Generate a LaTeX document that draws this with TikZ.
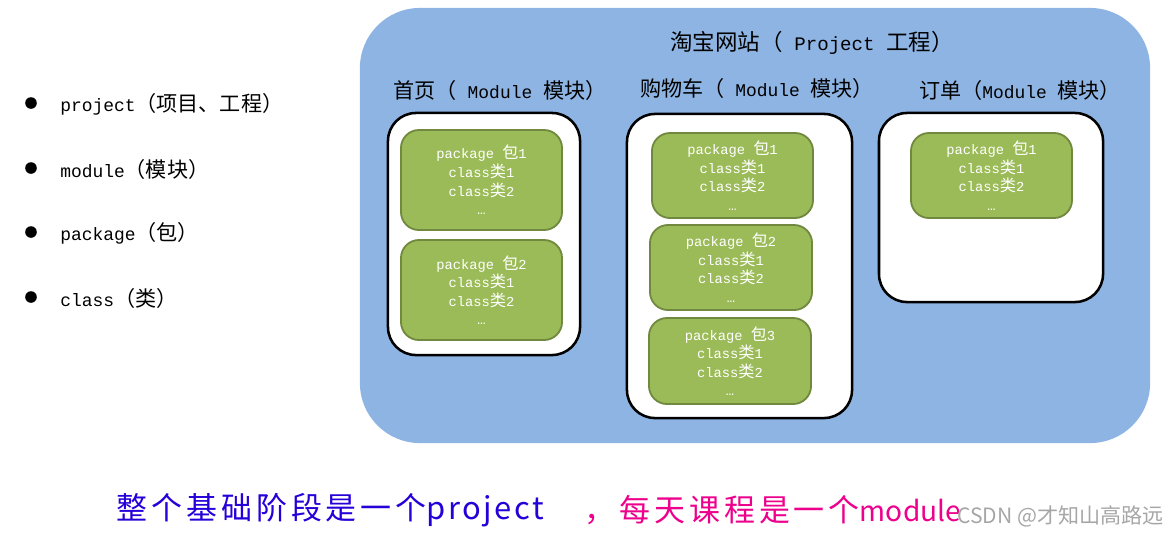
\documentclass[tikz,border=0pt]{standalone}
\usepackage{fontspec}
\usepackage{xcolor}
\setmainfont{Liberation Mono}[Scale=0.85]
\newfontfamily\cjk{Noto Sans CJK SC}
\newfontfamily\hand{Noto Sans CJK SC}[LetterSpace=13]
\newfontfamily\handlat{Noto Sans CJK SC}[LetterSpace=8]
\newfontfamily\handlatn{Noto Sans CJK SC}[LetterSpace=0]
\newcommand{\zh}[1]{{\cjk #1}}
\definecolor{projblue}{HTML}{8EB4E3}
\definecolor{pkggreen}{HTML}{9BBB59}
\definecolor{pkgedge}{HTML}{71893F}

\begin{document}
\begin{tikzpicture}[x=0.025cm, y=-0.025cm,
  modbox/.style={draw=black, fill=white, line width=1.8pt, rounded corners=0.7cm},
  pkgbox/.style={draw=pkgedge, fill=pkggreen, line width=1.3pt, rounded corners=0.45cm,
    text=white, align=center, font=\fontsize{11.5}{13.2}\selectfont},
  item/.style={anchor=west, font=\fontsize{15}{18}\selectfont},
  dot/.style={circle, fill=black, inner sep=0pt, minimum size=0.29cm},
  title/.style={font=\fontsize{15}{18}\selectfont},
  note/.style={anchor=west, font=\hand\fontsize{22}{26}\selectfont}]
\useasboundingbox (0,0) rectangle (1169,535);

% left list
\node[dot] (d1) at (31,103) {};
\node[dot] (d2) at (31,168) {};
\node[dot] (d3) at (31,232) {};
\node[dot] (d4) at (31,297) {};
\node[item] (i1) at (56,104) {project\zh{（项目、工程）}};
\node[item] (i2) at (56,169) {module\zh{（模块）}};
\node[item] (i3) at (56,233) {package\zh{（包）}};
\node[item] (i4) at (56,298) {class\zh{（类）}};

% project
\node[fill=projblue, rounded corners=1.5cm, minimum width=19.75cm, minimum height=10.875cm] (proj) at (755,225.5) {};
\node[title, font=\fontsize{16}{19}\selectfont] (projt) at (812,43) {\zh{淘宝网站（}~Project~\zh{工程）}};

% modules
\node[title] (m1t) at (500,90) {\zh{首页（}~Module~\zh{模块）}};
\node[title] (m2t) at (757,88) {\zh{购物车（}~Module~\zh{模块）}};
\node[title] (m3t) at (1020,90) {\zh{订单（}Module~\zh{模块）}};
\node[modbox, minimum width=4.8cm, minimum height=6.05cm] (m1) at (484,234) {};
\node[modbox, minimum width=5.625cm, minimum height=7.6cm] (m2) at (739.5,266) {};
\node[modbox, minimum width=5.6cm, minimum height=4.725cm] (m3) at (991,207.5) {};

% packages
\node[pkgbox, minimum width=4.025cm, minimum height=2.5cm] (m1p1) at (481.5,180) {package \zh{包}1\\class\zh{类}1\\class\zh{类}2\\…};
\node[pkgbox, minimum width=4.025cm, minimum height=2.5cm] (m1p2) at (481.5,290) {package \zh{包}2\\class\zh{类}1\\class\zh{类}2\\…};
\node[pkgbox, minimum width=4.025cm, minimum height=2.125cm] (m2p1) at (732.5,175.5) {package \zh{包}1\\class\zh{类}1\\class\zh{类}2\\…};
\node[pkgbox, minimum width=4.05cm, minimum height=2.125cm] (m2p2) at (731,267.5) {package \zh{包}2\\class\zh{类}1\\class\zh{类}2\\…};
\node[pkgbox, minimum width=4.05cm, minimum height=2.15cm] (m2p3) at (730,361) {package \zh{包}3\\class\zh{类}1\\class\zh{类}2\\…};
\node[pkgbox, minimum width=4.025cm, minimum height=2.125cm] (m3p1) at (991.5,175.5) {package \zh{包}1\\class\zh{类}1\\class\zh{类}2\\…};

% bottom note
\node[note, text=blue!85!red] (note1) at (112,510) {整个基础阶段是一个{\handlat project}};
\node[note, text=magenta] (note2) at (580,510) {，每天课程是一个{\handlatn\fontsize{20}{24}\selectfont module}};
\node[anchor=east, text=gray!70, font=\cjk\fontsize{15}{18}\selectfont] (mark) at (1168,516) {CSDN @才知山高路远};
\end{tikzpicture}
\end{document}
